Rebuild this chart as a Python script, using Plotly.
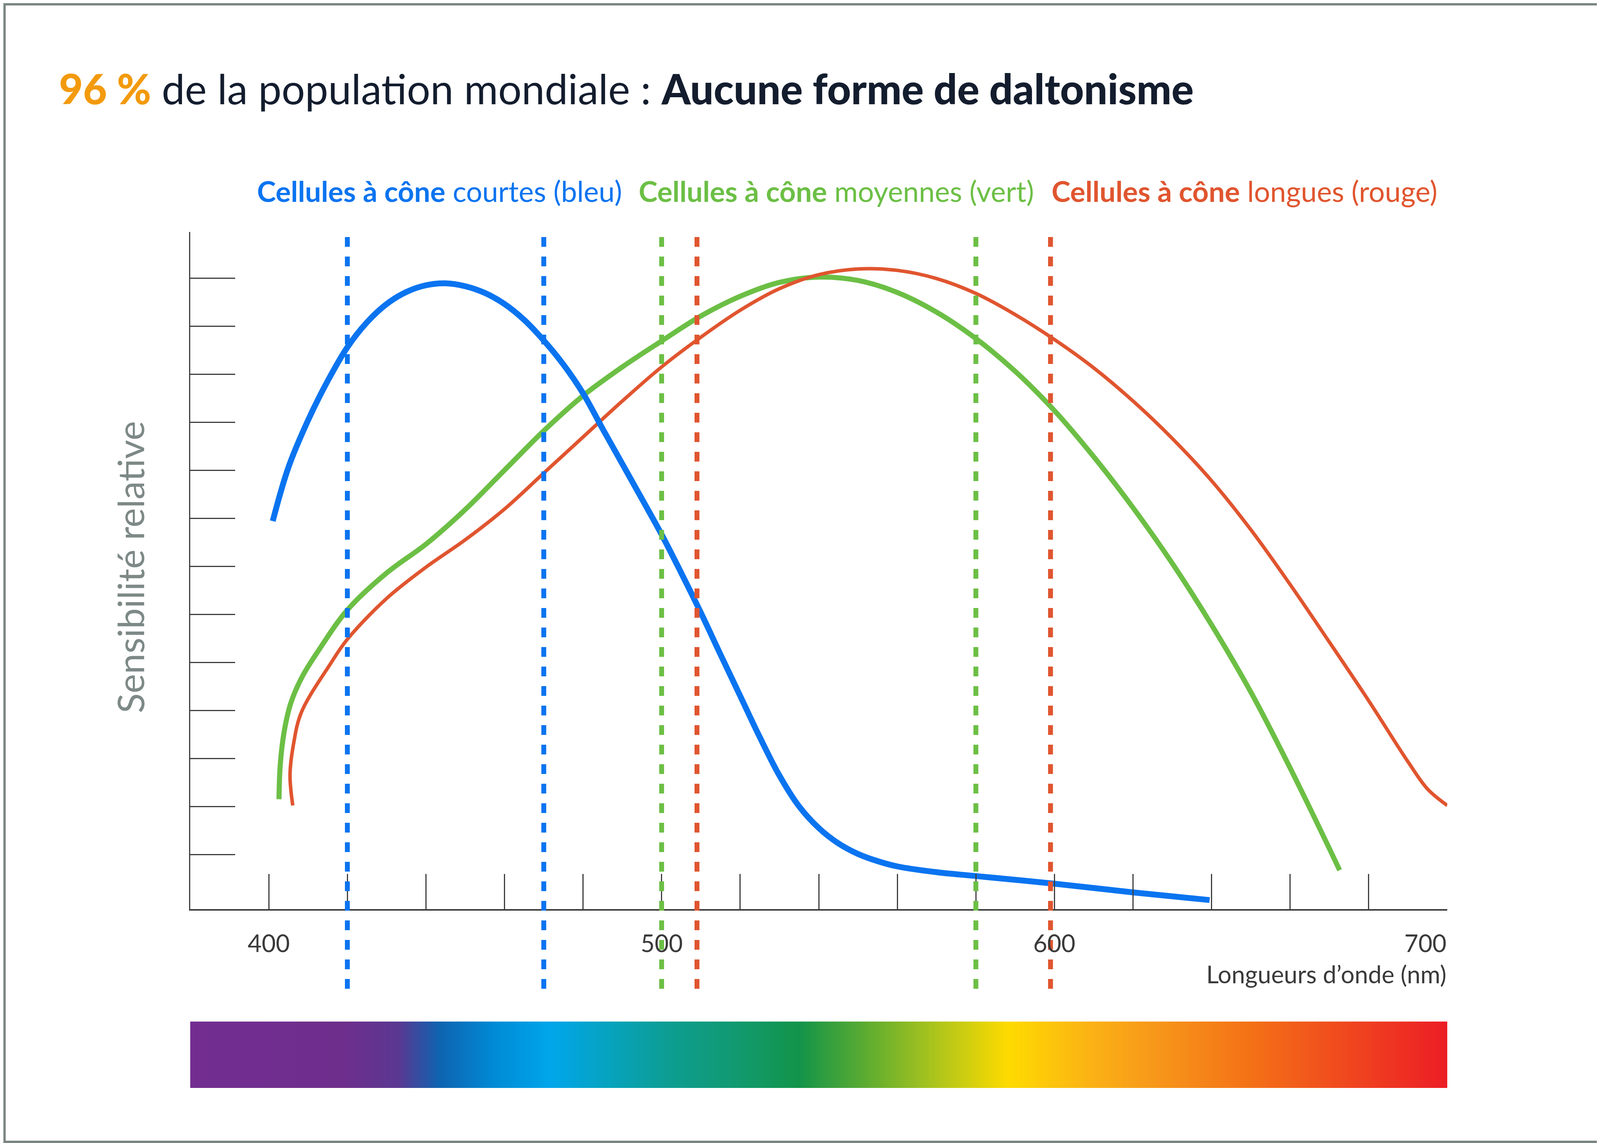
import numpy as np
import plotly.graph_objects as go

# ---------------- data ----------------
blue_nm = [401, 405, 410, 415, 420, 425, 430, 435, 440, 445, 450, 455, 460, 465, 470,
           475, 480, 485, 490, 495, 500, 505, 510, 515, 520, 525, 530, 535, 540, 545,
           550, 555, 560, 570, 580, 600, 620, 639.5]
blue_val = [6.94, 8.06, 9.04, 9.86, 10.56, 11.08, 11.46, 11.71, 11.85, 11.89, 11.83,
            11.69, 11.46, 11.13, 10.70, 10.20, 9.60, 8.86, 8.13, 7.40, 6.66, 5.86, 5.03,
            4.16, 3.30, 2.44, 1.64, 1.00, 0.55, 0.23, 0.01, -0.14, -0.25, -0.37, -0.45,
            -0.61, -0.79, -0.95]

green_nm = [402.6, 402.9, 403.9, 405.6, 408.5, 413.1, 420, 430, 440, 450, 460, 470, 480,
            490, 500, 510, 520, 530, 540, 550, 560, 570, 580, 590, 600, 610, 620, 630,
            640, 650, 660, 670, 672.6]
green_val = [1.15, 1.85, 2.55, 3.15, 3.70, 4.30, 5.09, 5.86, 6.46, 7.18, 8.00, 8.82, 9.55,
             10.15, 10.69, 11.21, 11.62, 11.91, 12.02, 11.95, 11.70, 11.29, 10.74, 10.06,
             9.24, 8.28, 7.22, 6.06, 4.78, 3.38, 1.80, 0.12, -0.33]

red_nm = [406.1, 405.4, 406.3, 408.3, 415.7, 420, 430, 440, 450, 460, 470, 480, 490, 500,
          510, 520, 530, 540, 550, 560, 570, 580, 590, 600, 610, 620, 630, 640, 650, 660,
          670, 680, 690, 695, 700]
red_val = [1.02, 1.65, 2.30, 2.96, 3.97, 4.48, 5.33, 5.98, 6.55, 7.19, 7.94, 8.69, 9.44,
           10.15, 10.77, 11.33, 11.78, 12.07, 12.19, 12.16, 11.99, 11.68, 11.24, 10.72,
           10.13, 9.44, 8.66, 7.78, 6.76, 5.62, 4.42, 3.20, 1.93, 1.36, 1.02]

# cone range markers (dotted verticals), nm
blue_marks = [420, 470]
green_marks = [500, 580]
red_marks = [509, 599]

x_ticks = [400, 420, 440, 460, 480, 500, 520, 540, 560, 580, 600, 620, 640, 660, 680, 700]
x_labels = [400, 500, 600, 700]
y_ticks = [0, 1, 2, 3, 4, 5, 6, 7, 8, 9, 10, 11, 12]

spectrum_nm = [380, 418.8, 433, 443.3, 457.6, 471.8, 486, 502.5, 518.8, 535, 551.4,
               567.8, 588.2, 608.6, 625, 649.4, 673.9, 700]
spectrum_col = ["#732d91", "#6e2e8c", "#5a3892", "#0f63b0", "#008bd6", "#00a6ea",
                "#06a3c0", "#0d9d90", "#119a70", "#13944a", "#5aab31", "#a4c21f",
                "#fedb00", "#fbb314", "#f7981a", "#f47216", "#f0481f", "#ec1d25"]

title_pct = "96 %"
title_mid = "de la population mondiale :"
title_bold = "Aucune forme de daltonisme"
legend_bold = "Cellules à cône"
legend_rest = ["courtes (bleu)", "moyennes (vert)", "longues (rouge)"]
x_title = "Longueurs d’onde (nm)"
y_title = "Sensibilité relative"

BLUE, GREEN, RED = "#0a74f0", "#6cbf45", "#e0552f"
ORANGE, NAVY = "#f39a0d", "#131d2e"
AXIS = "#3d3d3d"
FONT = "Lato"

# ---------------- geometry ----------------
# reference layout is 5001 x 2927; the page is shown in a 4096 x 2927 viewport
# (with the default 8 px body margin), so horizontal positions are scaled.
REF_W, VIEW_W, VIEW_H, OFF = 5001, 4096, 2927, 8
S = VIEW_W / REF_W
FW, FH = VIEW_W - OFF, VIEW_H - OFF


def fx(X):  # reference x pixel -> figure pixel
    return X * S - OFF


def fy(Y):
    return Y - OFF


L, R, T, B = fx(594), fx(4524), fy(594), fy(2786)
pw, ph = R - L, B - T


def px(X):
    return (fx(X) - L) / pw


def py(Y):
    return (B - fy(Y)) / ph


main_bottom = py(2328)
spec_top = py(2616)

fig = go.Figure()

# spectrum bar
spec_x = np.linspace(380, 700, 1281)
cs = [[(n - 380) / 320, c] for n, c in zip(spectrum_nm, spectrum_col)]
fig.add_trace(go.Heatmap(x=spec_x, y=[0], z=[spec_x], colorscale=cs, zmin=380, zmax=700,
                         showscale=False, hoverinfo="skip", xaxis="x", yaxis="y2"))

# curves
for xs, ys, col, w in [(green_nm, green_val, GREEN, 13),
                       (red_nm, red_val, RED, 9),
                       (blue_nm, blue_val, BLUE, 15)]:
    fig.add_trace(go.Scatter(x=xs, y=ys, mode="lines",
                             line=dict(color=col, width=w, shape="spline", smoothing=1.0),
                             showlegend=False, hoverinfo="skip"))

# dotted markers
shapes = []
for marks, col in [(blue_marks, BLUE), (green_marks, GREEN), (red_marks, RED)]:
    for m in marks:
        shapes.append(dict(type="line", xref="x", yref="paper", x0=m, x1=m,
                           y0=py(2532), y1=1.0, layer="above",
                           line=dict(color=col, width=12.5, dash="25px,25px")))
# outer frame
shapes.append(dict(type="rect", xref="paper", yref="paper",
                   x0=(3 - L) / pw, x1=(FW - 3 - L) / pw,
                   y0=(B - (FH - 3)) / ph, y1=(B - 3) / ph,
                   line=dict(color="#7b8682", width=6), fillcolor="rgba(0,0,0,0)",
                   layer="above"))

ann = []
for v in x_labels:
    ann.append(dict(text=str(v), x=v, xref="x", y=py(2414), yref="paper",
                    xanchor="right" if v == x_ticks[-1] else "center", yanchor="middle",
                    showarrow=False, font=dict(family=FONT, size=62, color="#3a3a3a")))
ann.append(dict(text=x_title, x=x_ticks[-1], xref="x", y=py(2494),
                yref="paper", xanchor="right", yanchor="middle", showarrow=False,
                font=dict(family=FONT, size=62, color="#3a3a3a")))
ann.append(dict(text=y_title, x=px(405), xref="paper", y=py(1452),
                yref="paper", textangle=-90, xanchor="center", yanchor="middle",
                showarrow=False, font=dict(family=FONT, size=94, color="#7d8987")))
ann.append(dict(text=f"<span style='color:{ORANGE};font-weight:900'>{title_pct}</span> {title_mid} "
                     f"<span style='font-weight:900'>{title_bold}</span>",
                x=px(181), xref="paper", y=py(226), yref="paper", xanchor="left",
                yanchor="middle", showarrow=False,
                font=dict(family=FONT, size=106, color=NAVY)))
for txt, col, X in zip(legend_rest, [BLUE, GREEN, RED], [801, 1994, 3285]):
    ann.append(dict(text=f"<b>{legend_bold}</b> {txt}", x=px(X), xref="paper",
                    y=py(489), yref="paper", xanchor="left", yanchor="middle",
                    showarrow=False, font=dict(family=FONT, size=73, color=col)))

fig.update_layout(
    width=FW, height=FH, autosize=False,
    margin=dict(l=L, r=FW - R, t=T, b=FH - B, pad=0),
    paper_bgcolor="white", plot_bgcolor="white",
    showlegend=False, shapes=shapes, annotations=ann,
    xaxis=dict(range=[380, 700], anchor="y", showline=True, linewidth=4, linecolor=AXIS,
               ticks="inside", ticklen=90, tickwidth=2.5, tickcolor=AXIS, tickvals=x_ticks,
               showticklabels=False, showgrid=False, zeroline=False, fixedrange=True),
    yaxis=dict(domain=[main_bottom, 1], range=[-1.138, 12.96], showline=True, linewidth=3,
               linecolor=AXIS, ticks="inside", ticklen=115, tickwidth=3, tickcolor=AXIS,
               tickvals=y_ticks, showticklabels=False, showgrid=False, zeroline=False),
    yaxis2=dict(domain=[0, spec_top], range=[-0.5, 0.5], visible=False, showgrid=False,
                zeroline=False),
)

fig.write_html("out.html")
